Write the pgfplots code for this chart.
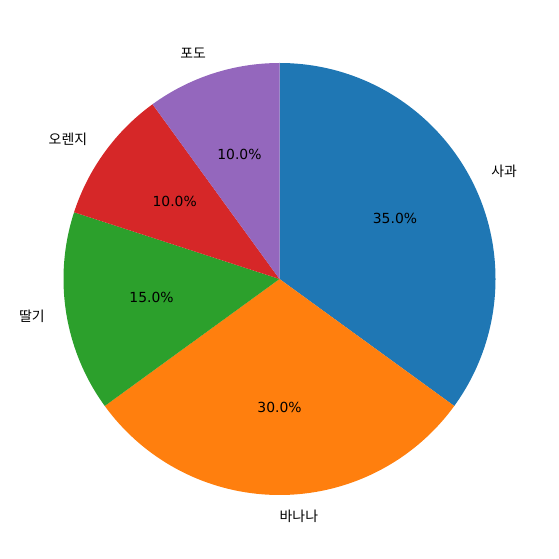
\documentclass[border=0pt]{standalone}
\usepackage{pgfplots}
\usepackage{pgfplotstable}
\pgfplotsset{compat=1.18}
\usepackage{fontspec}
\setmainfont{Noto Sans CJK KR}
\newfontfamily\numfont{DejaVu Sans}

\definecolor{c0}{HTML}{1F77B4}
\definecolor{c1}{HTML}{FF7F0E}
\definecolor{c2}{HTML}{2CA02C}
\definecolor{c3}{HTML}{D62728}
\definecolor{c4}{HTML}{9467BD}

% fruit shares, drawn clockwise from the top
\pgfplotstableread[col sep=comma]{
label,value,color
사과,35,c0
바나나,30,c1
딸기,15,c2
오렌지,10,c3
포도,10,c4
}\fruits

\begin{document}
\begin{tikzpicture}
\begin{axis}[
  x=1pt, y=1pt,
  xmin=-279.5, xmax=278.5,
  ymin=-280, ymax=279,
  hide axis, clip=false,
  scale only axis,
]
\path (axis cs:-279.5,-280) rectangle (axis cs:278.5,279);
\pgfplotsextra{
  \def\R{216}
  \xdef\startangle{90}
  \pgfplotstablegetrowsof{\fruits}
  \pgfmathtruncatemacro{\last}{\pgfplotsretval-1}
  \fontsize{13.9}{16}\selectfont
  \foreach \i in {0,...,\last}{
    \pgfplotstablegetelem{\i}{value}\of\fruits \let\val\pgfplotsretval
    \pgfplotstablegetelem{\i}{label}\of\fruits \let\lab\pgfplotsretval
    \pgfplotstablegetelem{\i}{color}\of\fruits \let\col\pgfplotsretval
    \pgfmathsetmacro{\sa}{\startangle}
    \pgfmathsetmacro{\ea}{\sa-3.6*\val}
    \pgfmathsetmacro{\ma}{(\sa+\ea)/2}
    \fill[\col] (axis cs:0,0) -- (axis cs:{\R*cos(\sa)},{\R*sin(\sa)})
      arc[start angle=\sa, end angle=\ea, radius=\R pt] -- cycle;
    \pgfmathsetmacro{\lx}{1.1*\R*cos(\ma)}
    \pgfmathsetmacro{\ly}{1.1*\R*sin(\ma)}
    \pgfmathsetmacro{\px}{0.6*\R*cos(\ma)}
    \pgfmathsetmacro{\py}{0.6*\R*sin(\ma)}
    \pgfmathparse{\lx>=-0.01 ? "west" : "east"}
    \let\anc\pgfmathresult
    \node[anchor=\anc, inner sep=0pt] at (axis cs:\lx,\ly) {\lab};
    \node[inner sep=0pt, font=\numfont] at (axis cs:\px,\py+1.5)
      {\pgfmathprintnumber[fixed,fixed zerofill,precision=1,
        assume math mode=true]{\val}\%};
    \xdef\startangle{\ea}
  }
}
\end{axis}
\end{tikzpicture}
\end{document}
